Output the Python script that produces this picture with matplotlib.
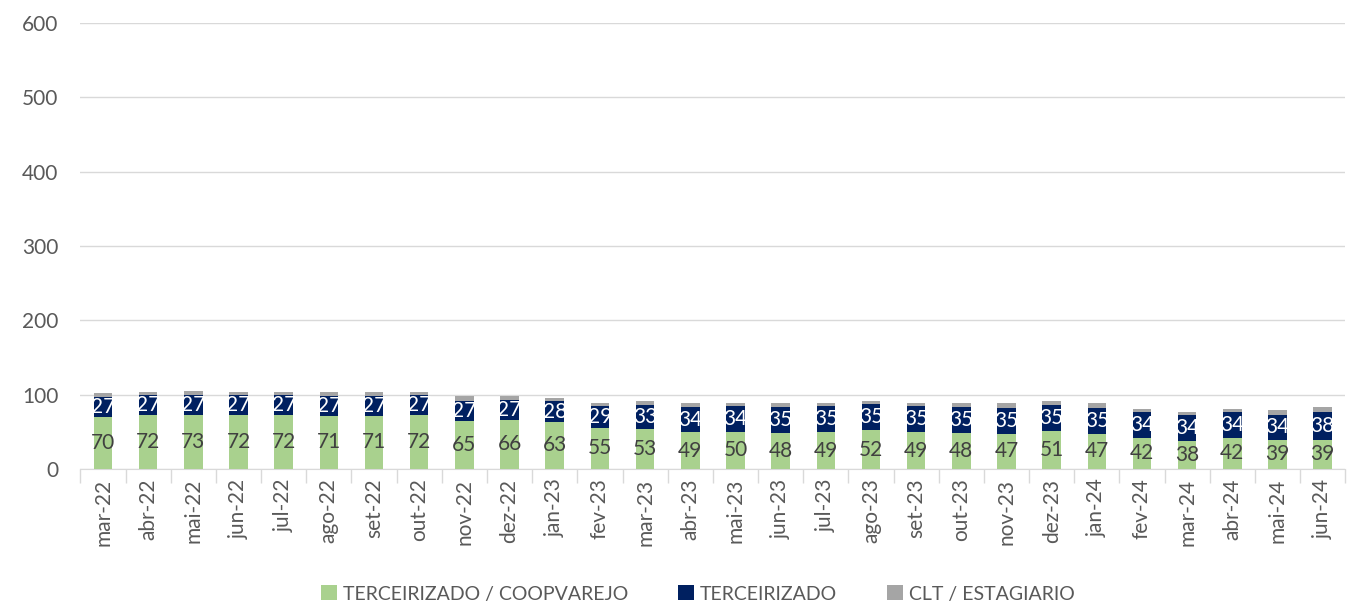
import numpy as np
import matplotlib.pyplot as plt

months = ["mar-22", "abr-22", "mai-22", "jun-22", "jul-22", "ago-22", "set-22", "out-22",
          "nov-22", "dez-22", "jan-23", "fev-23", "mar-23", "abr-23", "mai-23", "jun-23",
          "jul-23", "ago-23", "set-23", "out-23", "nov-23", "dez-23", "jan-24", "fev-24",
          "mar-24", "abr-24", "mai-24", "jun-24"]
coopvarejo = [70, 72, 73, 72, 72, 71, 71, 72, 65, 66, 63, 55, 53, 49, 50, 48,
              49, 52, 49, 48, 47, 51, 47, 42, 38, 42, 39, 39]
terceirizado = [27, 27, 27, 27, 27, 27, 27, 27, 27, 27, 28, 29, 33, 34, 34, 35,
                35, 35, 35, 35, 35, 35, 35, 34, 34, 34, 34, 38]
clt = [5, 5, 5, 5, 5, 6, 6, 5, 6, 5, 5, 5, 6, 5, 5, 5,
       5, 5, 5, 5, 6, 6, 6, 5, 5, 5, 6, 6]

plt.rcParams['font.family'] = ['Lato', 'DejaVu Sans']
text_color = "#595959"
fs = 15

fig = plt.figure(figsize=(13.63, 6.05), dpi=100)
ax = fig.add_axes([0.059, 0.225, 0.928, 0.737])

x = np.arange(len(months))
w = 0.41
green = np.array(coopvarejo)
navy = np.array(terceirizado)
gray = np.array(clt)

b1 = ax.bar(x, green, w, color="#a9d18e", label="TERCEIRIZADO / COOPVAREJO", zorder=3)
b2 = ax.bar(x, navy, w, bottom=green, color="#002060", label="TERCEIRIZADO", zorder=3)
b3 = ax.bar(x, gray, w, bottom=green + navy, color="#a5a5a5", label="CLT / ESTAGIARIO", zorder=3)

ax.bar_label(b1, labels=[str(v) for v in coopvarejo], label_type="center",
             color="#404040", fontsize=fs)
ax.bar_label(b2, labels=[str(v) for v in terceirizado], label_type="center",
             color="white", fontsize=fs)

ax.set_xlim(-0.5, len(months) - 0.5)
ax.set_ylim(0, 600)
ax.set_yticks(range(0, 601, 100))
ax.yaxis.grid(True, color="#d9d9d9", linewidth=1, zorder=0)
ax.tick_params(axis="y", length=0, labelsize=fs, labelcolor=text_color, pad=16)

ax.set_xticks(x)
ax.set_xticklabels(months, rotation=90)
ax.tick_params(axis="x", length=0, labelsize=fs, labelcolor=text_color, pad=7)
ax.set_xticks(np.arange(-0.5, len(months), 1), minor=True)
ax.tick_params(axis="x", which="minor", length=10, color="#d9d9d9", width=1)

for s in ["top", "right", "left"]:
    ax.spines[s].set_visible(False)
ax.spines["bottom"].set_color("#d9d9d9")

fig.legend(handles=[b1, b2, b3], loc="lower center", ncol=3, frameon=False,
           bbox_to_anchor=(0.512, -0.025), fontsize=14, labelcolor=text_color,
           handlelength=0.8, handleheight=0.8, handletextpad=0.3, columnspacing=2.6)

fig.savefig("out.png", dpi=100)
